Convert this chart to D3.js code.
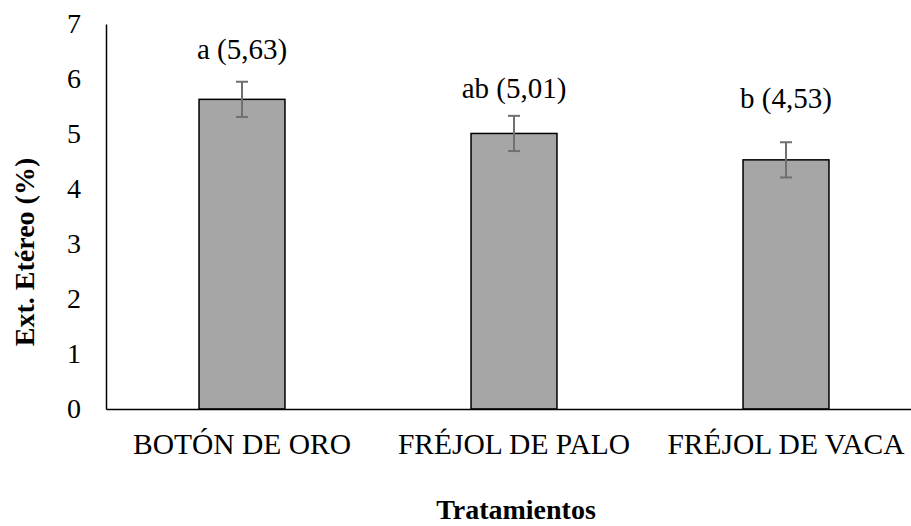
<!DOCTYPE html>
<html>
<head>
<meta charset="utf-8">
<script src="https://cdn.jsdelivr.net/npm/d3@7"></script>
<style>
  body { margin: 0; background: #fff; }
  svg text { font-family: "Liberation Serif", "Times New Roman", serif; }
</style>
</head>
<body>
<div id="chart"></div>
<script>
let categories = ["BOTÓN DE ORO", "FRÉJOL DE PALO", "FRÉJOL DE VACA"];
let values = [5.63, 5.01, 4.53];
let errors = [0.32, 0.32, 0.32];
let labels = ["a (5,63)", "ab (5,01)", "b (4,53)"];
let labelAt = [6.37, 5.65, 5.47];
let yTicks = [0, 1, 2, 3, 4, 5, 6, 7];

let width = 911;
let height = 526;
let fontSize = 28;
let serif = "Liberation Serif, Times New Roman, serif";

let svg = d3.select("#chart")
    .append("svg")
    .attr("width", width)
    .attr("height", height)
    .attr("font-family", serif);

let x = d3.scaleBand()
    .domain(categories)
    .range([106, 922])
    .paddingInner(0.684)
    .paddingOuter(0.342);

let y = d3.scaleLinear()
    .domain([0, 7])
    .range([409, 24]);

// y axis
let yAxis = svg.append("g")
    .attr("transform", "translate(106,0)")
    .call(d3.axisLeft(y).tickValues(yTicks).tickFormat(d3.format("d")).tickSize(0).tickPadding(25))
    .attr("font-family", serif)
    .attr("font-size", fontSize);
yAxis.select(".domain").attr("stroke", "#000").attr("stroke-width", 1.5);
yAxis.selectAll("text").attr("fill", "#000");

// bars
svg.selectAll(".bar")
    .data(values)
    .enter().append("rect")
    .attr("class", "bar")
    .attr("x", (d, i) => x(categories[i]))
    .attr("y", d => y(d))
    .attr("width", x.bandwidth())
    .attr("height", d => y(0) - y(d))
    .attr("fill", "#a6a6a6")
    .attr("stroke", "#000")
    .attr("stroke-width", 1.5);

// x axis
let xAxis = svg.append("g")
    .attr("transform", "translate(0," + y(0) + ")")
    .call(d3.axisBottom(x).tickSize(0).tickPadding(24))
    .attr("font-family", serif)
    .attr("font-size", 29.5);
xAxis.select(".domain").attr("stroke", "#000").attr("stroke-width", 1.5);
xAxis.selectAll("text").attr("fill", "#000");

// error bars
let err = svg.selectAll(".err")
    .data(values)
    .enter().append("g")
    .attr("class", "err")
    .attr("stroke", "#707070")
    .attr("stroke-width", 2);

err.append("line")
    .attr("x1", (d, i) => x(categories[i]) + x.bandwidth() / 2)
    .attr("x2", (d, i) => x(categories[i]) + x.bandwidth() / 2)
    .attr("y1", (d, i) => y(d + errors[i]))
    .attr("y2", (d, i) => y(d - errors[i]));

err.append("line")
    .attr("x1", (d, i) => x(categories[i]) + x.bandwidth() / 2 - 6)
    .attr("x2", (d, i) => x(categories[i]) + x.bandwidth() / 2 + 6)
    .attr("y1", (d, i) => y(d + errors[i]))
    .attr("y2", (d, i) => y(d + errors[i]));

err.append("line")
    .attr("x1", (d, i) => x(categories[i]) + x.bandwidth() / 2 - 6)
    .attr("x2", (d, i) => x(categories[i]) + x.bandwidth() / 2 + 6)
    .attr("y1", (d, i) => y(d - errors[i]))
    .attr("y2", (d, i) => y(d - errors[i]));

// data labels
svg.selectAll(".lbl")
    .data(labels)
    .enter().append("text")
    .attr("class", "lbl")
    .attr("x", (d, i) => x(categories[i]) + x.bandwidth() / 2)
    .attr("y", (d, i) => y(labelAt[i]))
    .attr("text-anchor", "middle")
    .attr("font-size", 29)
    .text(d => d);

// axis titles
svg.append("text")
    .attr("transform", "translate(34,252) rotate(-90)")
    .attr("text-anchor", "middle")
    .attr("font-size", fontSize)
    .attr("font-weight", "bold")
    .text("Ext. Etéreo (%)");

svg.append("text")
    .attr("x", 516)
    .attr("y", 519)
    .attr("text-anchor", "middle")
    .attr("font-size", fontSize)
    .attr("font-weight", "bold")
    .text("Tratamientos");
</script>
</body>
</html>
